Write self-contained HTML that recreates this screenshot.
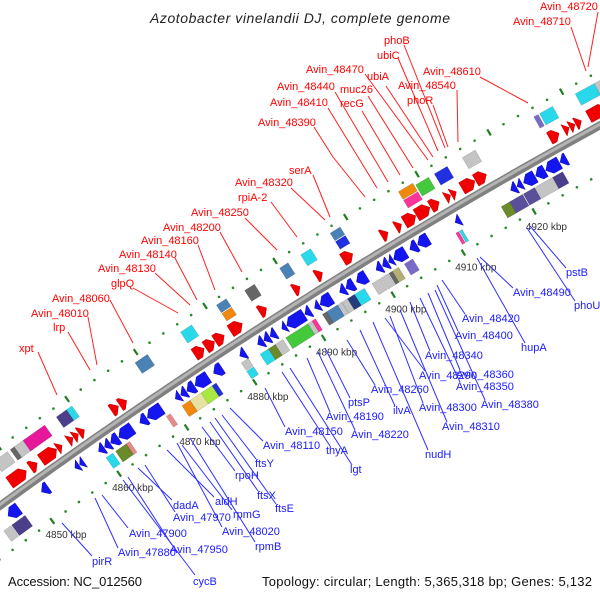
<!DOCTYPE html>
<html><head><meta charset="utf-8"><style>
html,body{margin:0;padding:0;background:#fff}
svg{display:block;font-family:"Liberation Sans",sans-serif}
</style></head><body>
<svg id="chart" width="600" height="600" viewBox="0 0 600 600" xmlns="http://www.w3.org/2000/svg">
<rect width="600" height="600" fill="#fff"/>
<text x="300" y="23" text-anchor="middle" font-size="14" font-style="italic" fill="#222" textLength="300">Azotobacter vinelandii DJ, complete genome</text>
<g id="bar"></g>
<g id="dots"></g>
<g id="feats"></g>
<g id="labels"></g>
<text x="8" y="586" font-size="13" fill="#111" textLength="134">Accession: NC_012560</text>
<text x="592" y="586" font-size="13" fill="#111" text-anchor="end" textLength="330">Topology: circular; Length: 5,365,318 bp; Genes: 5,132</text>
</svg>
<script>
const tickKbp = [4840,4850,4860,4870,4880,4890,4900,4910,4920,4930,4940];
const tickLabels = [4850,4860,4870,4880,4890,4900,4910,4920];
const fwdCds = [[4848.5,4851.0],[4851.6,4852.6],[4853.2,4855.5],[4855.6,4856.3],[4857.2,4857.9],[4858.0,4858.7],[4858.8,4859.6],[4863.6,4864.6],[4864.8,4865.8],[4875.7,4877.1],[4877.3,4878.6],[4878.7,4880.0],[4880.9,4882.6],[4885.1,4886.1],[4890,4890.9],[4893.2,4894.1],[4897.0,4898.4],[4902.5,4903.4],[4904.5,4905.3],[4905.7,4907.3],[4907.4,4909.3],[4909.4,4910.6],[4911.5,4912.2],[4912.3,4913.0],[4913.8,4915.6],[4915.7,4917.2],[4926,4927.3],[4928,4928.7],[4928.8,4929.5],[4929.6,4930.4],[4931.4,4933.8],[4933.9,4935]];
const revCds = [[4846,4847.6],[4851,4852],[4856,4856.6],[4856.7,4857.3],[4859.5,4860.3],[4860.4,4861.2],[4861.3,4862.4],[4862.5,4864.5],[4865.6,4866.6],[4866.7,4868.8],[4870.8,4871.5],[4871.6,4872.4],[4872.5,4873.6],[4873.7,4875.6],[4876.4,4877.6],[4880.2,4881.0],[4882.8,4883.6],[4883.7,4884.5],[4884.6,4885.4],[4886.3,4886.9],[4887,4889.5],[4889.6,4890.4],[4891,4891.7],[4891.8,4893.4],[4894.6,4895.4],[4895.5,4896.6],[4897,4898.4],[4899.8,4900.6],[4900.7,4901.5],[4901.6,4902.2],[4902.3,4904],[4904.6,4905.6],[4905.7,4907.2],[4911,4911.7],[4918.8,4919.6],[4919.7,4920.4],[4920.6,4922.2],[4922.3,4923.6],[4923.7,4925.6],[4925.7,4926.6],[4932,4932.7]];
const fwdBoxes = [[4846.8,4848.2,"olive",0],[4848.5,4850.5,"gray",0],[4850.9,4851.5,"dark",0],[4851.5,4853.2,"gray",0],[4852.8,4856.0,"magenta",0],[4857.7,4859.2,"darkpurple",0],[4859.2,4860.0,"cyan",0],[4869.2,4871.0,"steel",0],[4875.8,4877.4,"cyan",0],[4881.2,4882.6,"steel",1],[4881.2,4882.6,"orange",2],[4885.0,4886.4,"dark",0],[4890.0,4891.2,"steel",0],[4893.0,4894.4,"cyan",0],[4897.4,4898.8,"steel",1],[4897.4,4898.8,"blue",2],[4907.0,4909.0,"orange",1],[4907.0,4909.0,"pink",2],[4909.2,4911.0,"green",0],[4911.8,4913.6,"blue",0],[4915.7,4917.5,"gray",0],[4925.6,4926.2,"purple",0],[4926.4,4928.2,"cyan",0],[4931.3,4933.9,"cyan",0],[4933.9,4935.3,"gray",0],[4935.3,4937,"khaki",0]];
const revBoxes = [[4844.5,4845.6,"gray",0],[4845.7,4847.7,"darkpurple",0],[4859.8,4860.8,"cyan",0],[4861.2,4862.8,"olive",0],[4862.8,4863.3,"salmon",0],[4868.7,4869.3,"salmon",0],[4871.0,4872.2,"orange",0],[4872.2,4874.3,"pale",0],[4873.8,4875.4,"lightgreen",0],[4875.4,4876.0,"blue",0],[4879.9,4880.9,"gray",2],[4879.9,4880.9,"cyan",1],[4882.4,4883.6,"cyan",0],[4883.6,4884.6,"olive",0],[4884.6,4885.7,"gray",0],[4886.1,4889.3,"green",0],[4889.3,4889.9,"gray",0],[4889.9,4890.4,"pink",0],[4891.4,4892.0,"dark",0],[4892.0,4893.6,"steel",0],[4893.7,4894.2,"gray",0],[4894.2,4895.0,"gray",0],[4895.0,4896.0,"navy",0],[4896.0,4897.4,"cyan",0],[4898.5,4899.7,"gray",0],[4899.8,4900.8,"gray",0],[4900.9,4901.4,"dark",0],[4901.4,4902.3,"khaki",0],[4903.1,4904.3,"purple",0],[4910.4,4910.8,"pink",0],[4910.9,4911.3,"cyan",0],[4916.8,4918.0,"olive",0],[4918.0,4919.8,"purple2",0],[4919.9,4921.5,"purple2",0],[4921.6,4924.0,"gray",0],[4924.0,4925.4,"darkpurple",0]];
const palette = {olive:"#6b8a2a",gray:"#c4c4c4",dark:"#666666",magenta:"#e6179a",darkpurple:"#4b3f8c",purple2:"#5a4f9a",cyan:"#29d8ea",steel:"#4a82b5",orange:"#f0880c",blue:"#2030e0",pink:"#ff3399",green:"#44c83c",purple:"#7a6ac8",khaki:"#b4ae74",salmon:"#e88a8a",pale:"#e8e2a0",lightgreen:"#a8e840",navy:"#243c7c"};
const redLabels = [["Avin_48720",540,10,[[598,12],[588,67]]],["Avin_48710",513,25,[[571,27],[586,71]]],["phoB",384,44,[[404,45],[445,148]]],["ubiC",377,59,[[398,58],[438,151]]],["Avin_48470",306,73,[[365,74],[428,160]]],["ubiA",367,80,[[386,86],[433,157]]],["muc26",340,93,[[368,96],[413,168]]],["Avin_48440",277,90,[[335,92],[388,182]]],["Avin_48540",398,89,[[457,90],[458,142]]],["Avin_48610",423,75,[[480,77],[528,103]]],["Avin_48410",270,106,[[328,108],[377,188]]],["recG",340,107,[[362,111],[400,175]]],["phoR",407,104,[[433,105],[448,147]]],["Avin_48390",258,126,[[314,127],[333,157],[365,197]]],["serA",289,174,[[313,175],[330,217]]],["Avin_48320",235,186,[[291,188],[325,220]]],["rpiA-2",238,201,[[271,202],[297,237]]],["Avin_48250",191,216,[[245,218],[277,250]]],["Avin_48200",163,231,[[220,232],[242,272]]],["Avin_48160",141,244,[[198,245],[215,290]]],["Avin_48140",119,258,[[175,258],[197,300]]],["Avin_48130",98,272,[[155,273],[190,305]]],["glpQ",111,287,[[133,288],[178,313]]],["Avin_48060",52,302,[[110,300],[133,343]]],["Avin_48010",31,317,[[88,317],[97,365]]],["lrp",53,331,[[68,332],[90,370]]],["xpt",19,352,[[38,352],[57,395]]]];
const blueLabels = [["pirR",92,565,[[62,523],[92,556]]],["Avin_47880",118,556,[[95,498],[118,548]]],["Avin_47900",129,537,[[102,495],[128,528]]],["cycB",193,585,[[123,480],[195,575]]],["Avin_47950",170,553,[[128,477],[172,545]]],["dadA",173,509,[[138,468],[172,500]]],["Avin_47970",173,521,[[145,465],[175,512]]],["aldH",215,505,[[167,450],[214,497]]],["rpmG",233,518,[[182,445],[232,510]]],["Avin_48020",222,535,[[177,443],[222,527]]],["rpmB",255,550,[[190,438],[255,542]]],["rpoH",235,479,[[202,427],[235,471]]],["ftsX",257,499,[[210,422],[258,491]]],["ftsE",275,512,[[215,418],[276,504]]],["ftsY",255,467,[[222,415],[256,459]]],["Avin_48110",263,449,[[230,408],[263,441]]],["Avin_48150",285,435,[[265,388],[285,427]]],["thyA",326,454,[[282,372],[330,446]]],["lgt",350,473,[[290,368],[352,465]]],["Avin_48190",326,420,[[307,358],[330,412]]],["Avin_48220",351,438,[[318,352],[355,430]]],["ptsP",348,406,[[325,348],[350,398]]],["Avin_48260",371,393,[[347,340],[375,385]]],["ilvA",393,414,[[360,330],[395,406]]],["nudH",425,458,[[373,322],[428,450]]],["Avin_48290",419,379,[[385,318],[425,371]]],["Avin_48300",419,411,[[390,316],[423,403]]],["Avin_48310",442,430,[[400,310],[447,422]]],["Avin_48340",425,359,[[410,302],[430,351]]],["Avin_48360",456,378,[[428,293],[460,370]]],["Avin_48350",456,390,[[420,298],[460,382]]],["Avin_48380",481,408,[[435,290],[485,400]]],["Avin_48400",455,339,[[437,285],[458,331]]],["Avin_48420",462,322,[[442,280],[465,314]]],["hupA",521,351,[[477,258],[525,343]]],["Avin_48490",513,296,[[480,257],[513,288]]],["pstB",566,276,[[530,226],[566,268]]],["phoU",574,309,[[527,228],[575,301]]]];

const NS="http://www.w3.org/2000/svg";
const R=5500, K0=4889.9, PX=8.25, th=32.3*Math.PI/180;
const nx=-Math.sin(th), ny=-Math.cos(th);
const Cx=300-R*nx, Cy=302-R*ny, a0=Math.atan2(ny,nx);
function pt(k,v){const a=a0+(k-K0)*PX/R;return [Cx+(R+v)*Math.cos(a),Cy+(R+v)*Math.sin(a)];}
function P(k,v){const p=pt(k,v);return p[0].toFixed(1)+","+p[1].toFixed(1);}
function mk(tag,parent){const e=document.createElementNS(NS,tag);parent.appendChild(e);return e;}

const bar=document.getElementById("bar");
let d="";for(let k=4835;k<=4945;k+=1){d+=(k===4835?"M":"L")+P(k,0);}
const b1=mk("path",bar);


b1.setAttribute("d",d);b1.setAttribute("stroke","#808080");b1.setAttribute("stroke-width","8");b1.setAttribute("fill","none");
let d2="";for(let k=4835;k<=4945;k+=1){d2+=(k===4835?"M":"L")+P(k,1);}
const b2=mk("path",bar);


b2.setAttribute("d",d2);b2.setAttribute("stroke","#b4b4b4");b2.setAttribute("stroke-width","3");b2.setAttribute("fill","none");

const dots=document.getElementById("dots");
const rows=[48,-43];
for(const v of rows){
  for(let k=4840;k<=4940;k+=2){
    if(tickKbp.indexOf(k)>=0){
      const l=mk("line",dots);
      
      
      const p1=pt(k,v-3.5),p2=pt(k,v+3.5);
      l.setAttribute("x1",p1[0]);l.setAttribute("y1",p1[1]);l.setAttribute("x2",p2[0]);l.setAttribute("y2",p2[1]);
      l.setAttribute("stroke","#1f7f1f");l.setAttribute("stroke-width","2.2");
    } else {
      const c=mk("circle",dots);
      
      
      const p=pt(k,v);c.setAttribute("cx",p[0]);c.setAttribute("cy",p[1]);c.setAttribute("r","1.3");c.setAttribute("fill","#2a8a2a");
    }
  }
}
for(const k of tickLabels){
  const t=mk("text",dots);
  
  
  const p=pt(k+0.4,-62);
  t.setAttribute("x",p[0]);t.setAttribute("y",p[1]+3.5);t.setAttribute("text-anchor","middle");
  t.setAttribute("font-size","10");t.setAttribute("fill","#333");
  t.textContent=k+" kbp";
}

const feats=document.getElementById("feats");
function cds(s,e,dir){
  const vc=dir>0?13:-13,h=6.5,hd=Math.min(e-s,0.7);
  let pts;
  if(dir>0) pts=[P(s,vc+h),P(e-hd,vc+h),P(e,vc),P(e-hd,vc-h),P(s,vc-h)];
  else pts=[P(e,vc+h),P(s+hd,vc+h),P(s,vc),P(s+hd,vc-h),P(e,vc-h)];
  const g=mk("polygon",feats);
  
  
  g.setAttribute("points",pts.join(" "));
  g.setAttribute("fill",dir>0?"#f00000":"#1515f0");
  g.setAttribute("stroke",dir>0?"#c00000":"#0a0ab0");g.setAttribute("stroke-width","0.5");
}
for(const f of fwdCds) cds(f[0],f[1],1);
for(const f of revCds) cds(f[0],f[1],-1);
function box(s,e,col,track,dir){
  let vc,h;
  if(track===0){vc=dir>0?33:-29;h=6.5;}
  else if(track===1){vc=dir>0?38:-34;h=4.5;}
  else {vc=dir>0?28:-24;h=4.5;}
  const g=mk("polygon",feats);
  
  
  g.setAttribute("points",[P(s,vc+h),P(e,vc+h),P(e,vc-h),P(s,vc-h)].join(" "));
  g.setAttribute("fill",palette[col]);
  g.setAttribute("stroke","rgba(0,0,0,0.25)");g.setAttribute("stroke-width","0.5");
}
for(const b of fwdBoxes) box(b[0],b[1],b[2],b[3],1);
for(const b of revBoxes) box(b[0],b[1],b[2],b[3],-1);

const lab=document.getElementById("labels");
function addLabels(arr,col,lineCol,nm){
  for(const L of arr){
    const pl=mk("polyline",lab);
    
    
    pl.setAttribute("points",L[3].map(p=>p.join(",")).join(" "));
    pl.setAttribute("fill","none");pl.setAttribute("stroke",lineCol);pl.setAttribute("stroke-width","1");
    const t=mk("text",lab);
    
    
    t.setAttribute("x",L[1]);t.setAttribute("y",L[2]);t.setAttribute("font-size","11");t.setAttribute("fill",col);
    t.textContent=L[0];
  }
}
addLabels(redLabels,"#ff0000","#ff2020","forward-gene");
addLabels(blueLabels,"#1a1aff","#3030ff","reverse-gene");
</script>
</body></html>
